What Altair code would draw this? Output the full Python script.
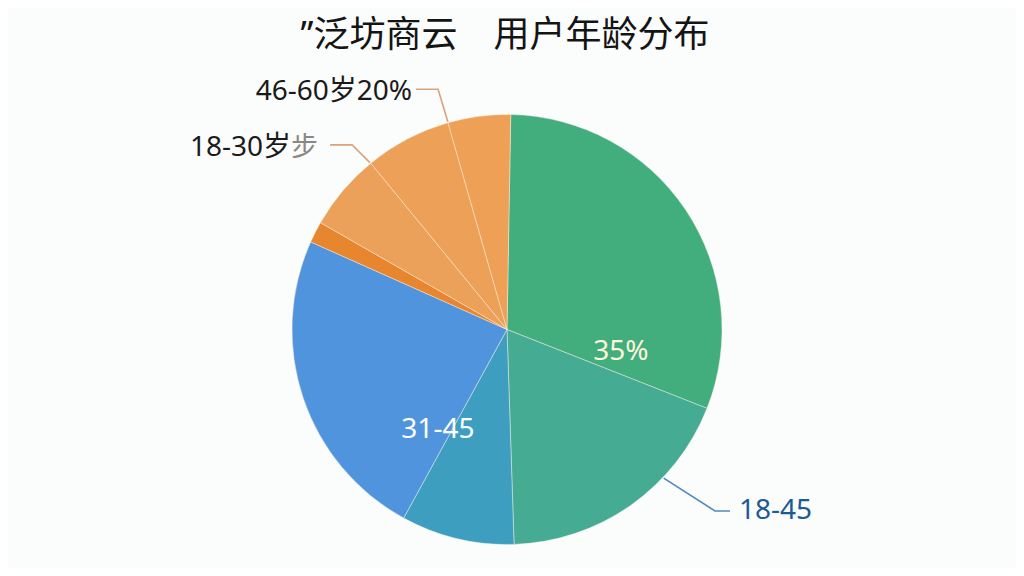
import math
import altair as alt
import pandas as pd

# ---------------- data ----------------
slice_ids = ["s1", "s2", "s3", "s4", "s5", "s6", "s7", "s8"]
slice_shares = [30.7, 18.5, 8.5, 23.7, 1.6, 5.8, 6.5, 4.7]
slice_colors = ["#42ad7d", "#45ab93", "#3d9ec0", "#5194de",
                "#e8862f", "#eca15b", "#eda058", "#eea057"]

title_text = "”泛坊商云　用户年龄分布"

outer_labels = ["46-60岁20%", "18-30岁", "18-45"]
outer_suffix = ["", "步", ""]
inner_labels = ["35%", "31-45"]

# ---------------- layout / style ----------------
W, H = 1008, 560
OFF = 8
CX, CY = 507 - OFF, 329.5 - OFF
R = 215
START_DEG = 1.0
FONT_LATIN = "'Noto Sans', 'Noto Sans CJK SC', sans-serif"

# leader placement: angle on rim (deg), elbow angle/radius, horizontal run (signed)
outer_angle = [344.1, 320.6, 133.5]
outer_elbow_angle = [344.0, 320.0, 131.1]
outer_elbow_r = [250, 241, 276]
outer_run = [-22, -22, 15]
outer_gap = [-4, -12, 9]
outer_dy = [3, 3, 0]
outer_text_color = ["#1a1a1a", "#1a1a1a", "#1b5b93"]
outer_line_color = ["#d9a47c", "#d9a47c", "#4f89bb"]

inner_angle = [101.2, 214.5]
inner_r = [116, 122]
inner_color = ["#fdf6d8", "#ffffff"]


def polar(a_deg, r):
    a = math.radians(a_deg)
    return CX + r * math.sin(a), CY - r * math.cos(a)


xs = alt.Scale(domain=[0, W], nice=False, zero=False)
ys = alt.Scale(domain=[0, H], nice=False, zero=False, reverse=True)

pie_df = pd.DataFrame({"slice": slice_ids, "share": slice_shares,
                       "idx": list(range(len(slice_ids)))})
s0 = math.radians(START_DEG)
pie = alt.Chart(pie_df).mark_arc(
    outerRadius=R, stroke="#fff4e4", strokeWidth=0.8, strokeOpacity=0.55
).encode(
    theta=alt.Theta("share:Q", stack=True,
                    scale=alt.Scale(range=[s0, s0 + 2 * math.pi])),
    color=alt.Color("slice:N", scale=alt.Scale(domain=slice_ids, range=slice_colors),
                    legend=None),
    order=alt.Order("idx:Q"),
    x=alt.value(CX),
    y=alt.value(CY),
)

layers = [pie]

# leader lines and outer labels
for i, lab in enumerate(outer_labels):
    x0, y0 = polar(outer_angle[i], R + 1)
    x1, y1 = polar(outer_elbow_angle[i], outer_elbow_r[i])
    x2, y2 = x1 + outer_run[i], y1
    ldf = pd.DataFrame({"x": [x0, x1, x2], "y": [y0, y1, y2], "o": [0, 1, 2]})
    layers.append(
        alt.Chart(ldf).mark_line(color=outer_line_color[i], strokeWidth=1.6).encode(
            x=alt.X("x:Q", scale=xs, axis=None),
            y=alt.Y("y:Q", scale=ys, axis=None),
            order="o:Q",
        )
    )
    right = outer_run[i] < 0
    tx = x2 + outer_gap[i]
    ty = y2 + outer_dy[i]
    if outer_suffix[i]:
        sdf = pd.DataFrame({"x": [tx], "y": [ty], "t": [outer_suffix[i]]})
        layers.append(
            alt.Chart(sdf).mark_text(
                align="right", baseline="middle", fontSize=27,
                font="'Noto Sans CJK SC'", color="#8c8782",
            ).encode(x=alt.X("x:Q", scale=xs, axis=None),
                     y=alt.Y("y:Q", scale=ys, axis=None), text="t:N")
        )
        tx = tx - 27
    tdf = pd.DataFrame({"x": [tx], "y": [ty], "t": [lab]})
    layers.append(
        alt.Chart(tdf).mark_text(
            align="right" if right else "left", baseline="middle", fontSize=28,
            font=FONT_LATIN, color=outer_text_color[i],
        ).encode(x=alt.X("x:Q", scale=xs, axis=None),
                 y=alt.Y("y:Q", scale=ys, axis=None), text="t:N")
    )

# inner labels
for i, lab in enumerate(inner_labels):
    px, py = polar(inner_angle[i], inner_r[i])
    idf = pd.DataFrame({"x": [px], "y": [py], "t": [lab]})
    layers.append(
        alt.Chart(idf).mark_text(
            align="center", baseline="middle", fontSize=28,
            font=FONT_LATIN, color=inner_color[i],
        ).encode(x=alt.X("x:Q", scale=xs, axis=None),
                 y=alt.Y("y:Q", scale=ys, axis=None), text="t:N")
    )

# title
tdf = pd.DataFrame({"x": [505 - OFF], "y": [36 - OFF], "t": [title_text]})
layers.append(
    alt.Chart(tdf).mark_text(
        align="center", baseline="middle", fontSize=36,
        font=FONT_LATIN, color="#141414",
    ).encode(x=alt.X("x:Q", scale=xs, axis=None),
             y=alt.Y("y:Q", scale=ys, axis=None), text="t:N")
)

chart = alt.layer(*layers).properties(
    width=W, height=H,
    autosize=alt.AutoSizeParams(type="none"),
    padding=0,
    background="#fbfcfc",
).configure_view(stroke=None)

chart.save("out.html", embed_options={"renderer": "svg", "actions": False})
